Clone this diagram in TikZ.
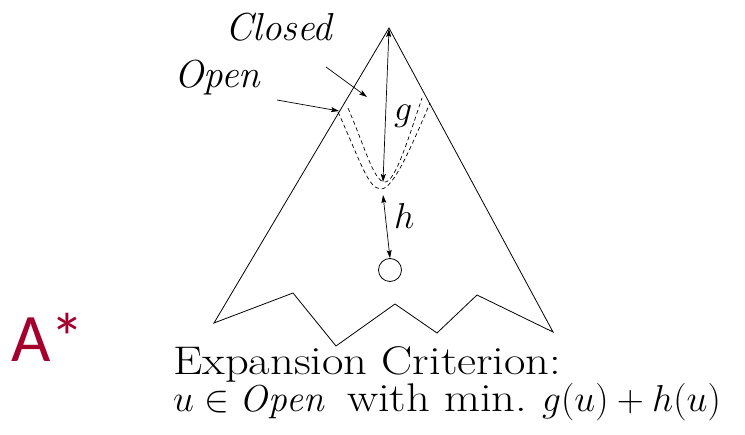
\RequirePackage{fix-cm}
\documentclass[tikz,border=0pt]{standalone}
\usepackage{graphicx}
\usepackage{fontspec}
\newfontfamily\asfont{Carlito}
\usetikzlibrary{arrows.meta}
\definecolor{astar}{RGB}{165,0,45}
\tikzset{
  edge/.style={line width=0.8pt,black},
  dbl/.style={line width=0.7pt,{Stealth[length=8pt,width=5pt,inset=1.5pt]}-{Stealth[length=8pt,width=5pt,inset=1.5pt]}},
  pointer/.style={line width=0.7pt,-{Stealth[length=8pt,width=5pt,inset=1.5pt]}},
  bnd/.style={line width=0.7pt,dash pattern=on 4pt off 3pt},
  lbl/.style={inner sep=0pt,anchor=base west,font=\fontsize{40}{42}\selectfont},
  mth/.style={inner sep=0pt,anchor=base west,font=\fontsize{37.5}{40}\selectfont},
  var/.style={inner sep=0pt,anchor=base west,font=\fontsize{36}{38}\selectfont},
  itl/.style={inner sep=0pt,anchor=base west,font=\fontsize{39}{40}\selectfont\itshape},
}
\begin{document}
\begin{tikzpicture}[x=1pt,y=-1pt]
\useasboundingbox (0,0) rectangle (745,435);
% outline
\coordinate (apex) at (389,28);
\coordinate (bl) at (214,323);
\coordinate (z1) at (293,293);
\coordinate (z2) at (336,346);
\coordinate (z3) at (395,304);
\coordinate (z4) at (437,333);
\coordinate (z5) at (477,295);
\coordinate (br) at (553,332);
\draw[edge,line join=miter] (apex) -- (bl) -- (z1) -- (z2) -- (z3) -- (z4) -- (z5) -- (br) -- cycle;
% open / closed boundaries
\coordinate (ol) at (338,112);
\coordinate (ob) at (381,189);
\coordinate (or) at (430,103);
\coordinate (il) at (348,108);
\coordinate (ib) at (385,182);
\coordinate (ir) at (422,98);
\draw[bnd] (ol) .. controls (360,160) and (368,189) .. (ob) .. controls (393,189) and (410,150) .. (or);
\draw[bnd] (il) .. controls (366,150) and (374,182) .. (ib) .. controls (395,182) and (408,140) .. (ir);
% goal
\node[draw,circle,line width=0.8pt,minimum size=23pt,inner sep=0pt] (goal) at (390,270) {};
% g and h
\coordinate (gtop) at (389,29);
\coordinate (gbot) at (383,182);
\draw[dbl] (gtop) -- (gbot);
\coordinate (htop) at (383,195);
\draw[dbl] (htop) -- (goal.north);
\node[var] (g) at (394,121) {$g$};
\node[var] (h) at (394,229) {$h$};
% labels
\node[itl] (closed) at (225,41) {Closed};
\node[itl] (open) at (174,88) {Open};
\coordinate (cstart) at (326,67);
\coordinate (ctip) at (367,97);
\coordinate (ostart) at (277,100);
\coordinate (otip) at (339,111);
\draw[pointer] (cstart) -- (ctip);
\draw[pointer] (ostart) -- (otip);
% criterion
\node[lbl,text depth=0pt] (crit1) at (173,375) {\scalebox{1.165}[1]{Expansion Criterion:}};
\node[mth] (crit2a) at (173,412) {$u\in \mathit{Open}$};
\node[lbl] (crit2b) at (347,412) {\scalebox{1.165}[1]{with min.}};
\node[mth] (crit2c) at (542,412) {$g(u)+h(u)$};
% A*
\node[inner sep=0pt,anchor=base west,text=astar,font=\asfont\fontsize{68}{68}\selectfont] (astar) at (11,362) {A*};
\end{tikzpicture}
\end{document}
